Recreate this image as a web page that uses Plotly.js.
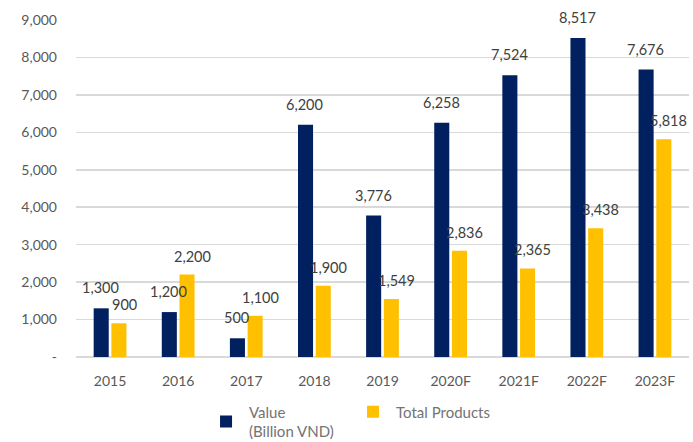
<!DOCTYPE html>
<html>
<head>
<meta charset="utf-8">
<script src="https://cdn.plot.ly/plotly-3.0.1.min.js"></script>
<style>html,body{margin:0;padding:0;background:#fff;}#chart{width:693px;height:442px;}</style>
</head>
<body>
<div id="chart"></div>
<script>
const categories = ["2015","2016","2017","2018","2019","2020F","2021F","2022F","2023F"];
const valueSeries = [1300,1200,500,6200,3776,6258,7524,8517,7676];
const productSeries = [900,2200,1100,1900,1549,2836,2365,3438,5818];
const seriesNames = ["Value<br>(Billion VND)","Total Products"];
const yTickVals = [0,1000,2000,3000,4000,5000,6000,7000,8000,9000];
const yTickText = ["-","1,000","2,000","3,000","4,000","5,000","6,000","7,000","8,000","9,000"];

const FONT = "Lato, 'Open Sans', sans-serif";
const fmt = v => v.toLocaleString("en-US");

const traces = [
  {type:"bar", name:seriesNames[0], x:categories, y:valueSeries, marker:{color:"#002060"}, hoverinfo:"none"},
  {type:"bar", name:seriesNames[1], x:categories, y:productSeries, marker:{color:"#FFC000"}, hoverinfo:"none"}
];

const annotations = [];
[valueSeries, productSeries].forEach((arr, si) => {
  arr.forEach((v, i) => {
    annotations.push({
      x: i, y: v, xref:"x", yref:"y",
      text: fmt(v), showarrow:false,
      xshift: si === 0 ? -9.5 : 14,
      yanchor:"bottom", yshift: si === 0 ? 10 : 8,
      font:{family:FONT, size:14.5, color:"#404040"}
    });
  });
});

const layout = {
  width:693, height:442,
  margin:{l:76, r:4, t:20, b:85},
  paper_bgcolor:"#fff", plot_bgcolor:"#fff",
  barmode:"group", bargap:0.48, bargroupgap:0.15,
  font:{family:FONT, color:"#595959"},
  xaxis:{
    type:"category", range:[-0.5, 8.5], showgrid:false, zeroline:false, showline:false,
    ticks:"", ticklabelstandoff:14, tickfont:{family:FONT, size:14, color:"#595959"}
  },
  yaxis:{
    range:[0,9000], tickvals:yTickVals, ticktext:yTickText,
    showgrid:true, gridcolor:"#d9d9d9", gridwidth:1.5,
    zeroline:true, zerolinecolor:"#d9d9d9", zerolinewidth:1.5,
    showline:false, ticks:"", ticklabelstandoff:18,
    tickfont:{family:FONT, size:14, color:"#595959"}
  },
  legend:{
    orientation:"h", xref:"container", x:0.293, xanchor:"left",
    yref:"container", y:0.105, yanchor:"top",
    font:{family:FONT, size:15, color:"#737373"},
    entrywidth:96, itemwidth:36
  },
  showlegend:true,
  annotations: annotations
};

Plotly.newPlot("chart", traces, layout, {staticPlot:true, displayModeBar:false});
</script>
</body>
</html>
